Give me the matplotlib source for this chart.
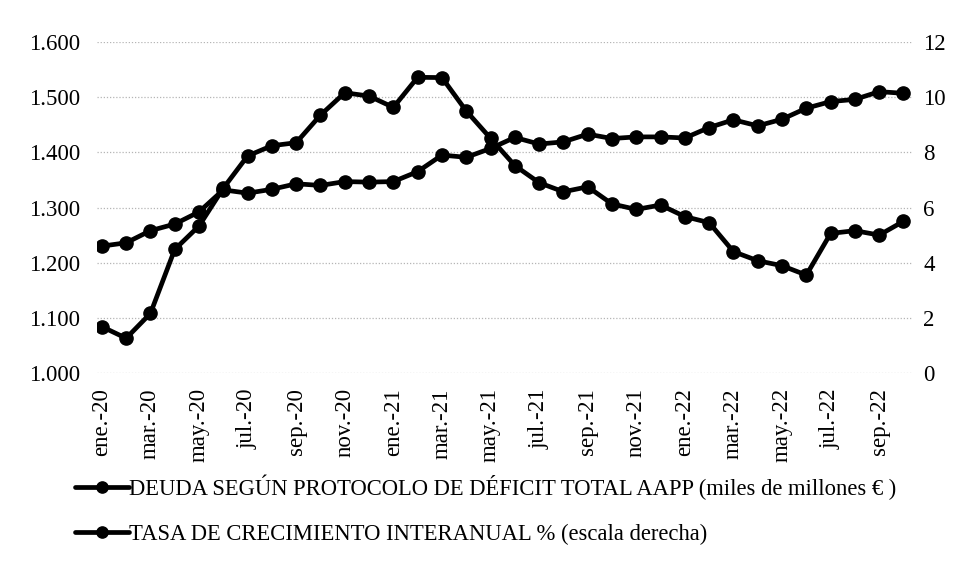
import matplotlib
matplotlib.use("Agg")
import matplotlib.pyplot as plt
from matplotlib.ticker import FuncFormatter, FixedLocator

months = ["ene.-20", "feb.-20", "mar.-20", "abr.-20", "may.-20", "jun.-20", "jul.-20", "ago.-20",
          "sep.-20", "oct.-20", "nov.-20", "dic.-20", "ene.-21", "feb.-21", "mar.-21", "abr.-21",
          "may.-21", "jun.-21", "jul.-21", "ago.-21", "sep.-21", "oct.-21", "nov.-21", "dic.-21",
          "ene.-22", "feb.-22", "mar.-22", "abr.-22", "may.-22", "jun.-22", "jul.-22", "ago.-22",
          "sep.-22", "oct.-22"]

deuda = [1230, 1236, 1258, 1270, 1292, 1332, 1326, 1333, 1343, 1340, 1347, 1346,
         1347, 1365, 1395, 1391, 1407, 1427, 1415, 1419, 1433, 1425, 1428, 1428,
         1426, 1445, 1459, 1448, 1460, 1480, 1492, 1496, 1510, 1507]

tasa = [1.68, 1.26, 2.16, 4.48, 5.33, 6.70, 7.87, 8.24, 8.35, 9.35, 10.16, 10.04,
        9.63, 10.72, 10.71, 9.50, 8.51, 7.52, 6.90, 6.57, 6.75, 6.13, 5.93, 6.09,
        5.67, 5.45, 4.40, 4.07, 3.89, 3.55, 5.06, 5.16, 5.00, 5.50]

label_deuda = "DEUDA SEGÚN PROTOCOLO DE DÉFICIT TOTAL AAPP (miles de millones € )"
label_tasa = "TASA DE CRECIMIENTO INTERANUAL % (escala derecha)"

plt.rcParams['font.family'] = ['Liberation Serif', 'DejaVu Serif']

W, H = 955, 582
fig = plt.figure(figsize=(W / 100, H / 100), dpi=100)
L, R, T, B = 97, 912, 42, 373
ax = fig.add_axes([L / W, 1 - B / H, (R - L) / W, (B - T) / H])
ax2 = ax.twinx()

x = list(range(len(months)))
lw = 3.4
ms = 9.5
l1, = ax.plot(x, deuda, color='black', lw=lw, marker='o', ms=ms, solid_capstyle='round', zorder=3)
l2, = ax2.plot(x, tasa, color='black', lw=lw, marker='o', ms=ms, solid_capstyle='round', zorder=3)

ax.set_xlim(-0.2, 33.35)
ax.set_ylim(1000, 1600)
ax2.set_ylim(0, 12)
ax.set_yticks([1000, 1100, 1200, 1300, 1400, 1500, 1600])
ax.yaxis.set_major_formatter(FuncFormatter(lambda v, p: f"{v/1000:.3f}"))
ax2.set_yticks([0, 2, 4, 6, 8, 10, 12])

tick_pos = x[::2]
ax.xaxis.set_major_locator(FixedLocator(tick_pos))
ax.set_xticklabels([months[i] for i in tick_pos], rotation=90, fontsize=16.5)

ax.grid(axis='y', color='#b5b5b5', linestyle=(0, (1, 1.5)), lw=0.9)
ax.set_axisbelow(True)
for a in (ax, ax2):
    for s in a.spines.values():
        s.set_visible(False)
ax.tick_params(axis='both', length=0)
ax.tick_params(axis='y', pad=12, labelsize=16.5)
ax.tick_params(axis='x', pad=11)
ax2.tick_params(axis='y', length=0, labelsize=16.5, pad=8)

fig.legend([l1, l2], [label_deuda, label_tasa], loc='upper left',
           bbox_to_anchor=(64 / W, 1 - 463 / H), frameon=False, fontsize=16.3,
           handlelength=2.35, handletextpad=0.0, labelspacing=1.05, borderpad=0,
           markerscale=0.85)

fig.savefig("out.png", dpi=100)
